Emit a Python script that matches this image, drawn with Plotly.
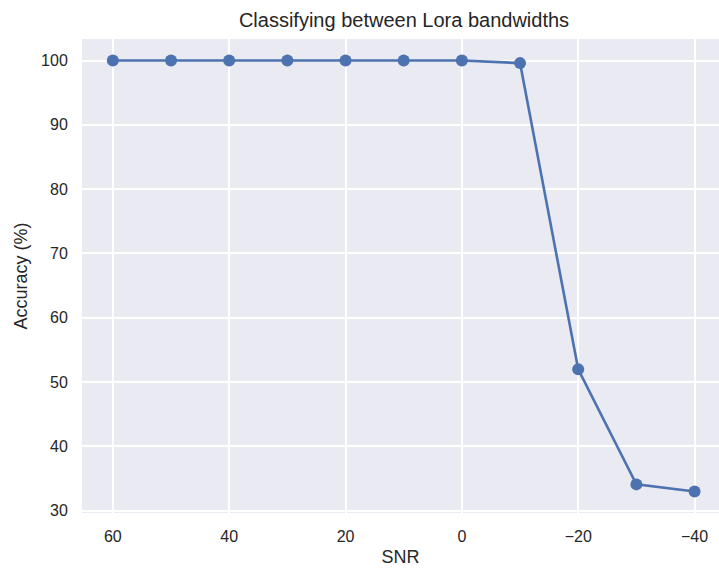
import plotly.graph_objects as go

snr = [60, 50, 40, 30, 20, 10, 0, -10, -20, -30, -40]
accuracy = [100, 100, 100, 100, 100, 100, 100, 99.6, 52, 34.1, 33.0]

x_ticks = [60, 40, 20, 0, -20, -40]
x_ticktext = ["60", "40", "20", "0", "\u221220", "\u221240"]
y_ticks = [30, 40, 50, 60, 70, 80, 90, 100]

fig = go.Figure()
fig.add_trace(go.Scatter(
    x=snr, y=accuracy, mode="lines+markers",
    line=dict(color="#4C72B0", width=2.6),
    marker=dict(color="#4C72B0", size=12),
    showlegend=False,
))

font_family = "Liberation Sans, Arial, sans-serif"
fig.update_layout(
    width=719, height=570,
    margin=dict(l=82, r=0, t=39, b=57),
    paper_bgcolor="white",
    plot_bgcolor="#EAEAF2",
    font=dict(family=font_family, color="#262626", size=16),
    title=dict(text="Classifying between Lora bandwidths", x=404 / 719, xanchor="center",
               y=1 - 20 / 570, yanchor="middle", font=dict(size=20, color="#262626")),
)
fig.update_xaxes(
    range=[65.3, -44.2], tickvals=x_ticks, ticktext=x_ticktext,
    showgrid=True, gridcolor="white", gridwidth=1.5, zeroline=False,
    ticks="outside", ticklen=9, tickcolor="rgba(0,0,0,0)",
    title=dict(text="SNR", font=dict(size=18), standoff=6),
    showline=False,
)
fig.update_yaxes(
    range=[29.65, 103.35], tickvals=y_ticks,
    showgrid=True, gridcolor="white", gridwidth=1.5, zeroline=False,
    ticks="outside", ticklen=10, tickcolor="rgba(0,0,0,0)",
    title=dict(text="Accuracy (%)", font=dict(size=18), standoff=8),
    showline=False,
)

fig.write_html("out.html")
